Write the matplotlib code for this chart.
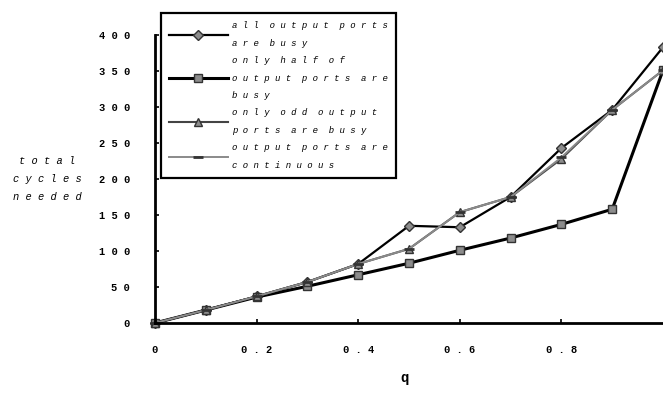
import matplotlib
matplotlib.use("Agg")
import matplotlib.pyplot as plt

# data
q = [0, 0.1, 0.2, 0.3, 0.4, 0.5, 0.6, 0.7, 0.8, 0.9, 1.0]
all_busy = [0, 18, 37, 57, 82, 135, 133, 175, 243, 296, 383]
half_busy = [0, 18, 36, 51, 67, 83, 101, 118, 137, 158, 351]
odd_busy = [0, 18, 37, 57, 82, 103, 154, 175, 228, 296, 351]
continuous = [0, 18, 37, 57, 82, 103, 154, 175, 230, 296, 351]

series_names = ["all output ports\nare busy",
                "only half of\noutput ports are\nbusy",
                "only odd output\nports are busy",
                "output ports are\ncontinuous"]

xtick_vals = [0, 0.2, 0.4, 0.6, 0.8]
ytick_vals = [0, 50, 100, 150, 200, 250, 300, 350, 400]

MONO = "Liberation Mono"


def spaced(s):
    # the scan uses wide letter spacing everywhere
    out = []
    for line in s.split("\n"):
        out.append("  ".join(" ".join(w) for w in line.split(" ")))
    return "\n".join(out)


fig = plt.figure(figsize=(6.63, 3.97), dpi=100)
ax = fig.add_axes([155 / 663, 1 - 323 / 397, (663 - 155) / 663, (323 - 35) / 397])

mk = dict(markerfacecolor="#8c8c8c", markeredgecolor="#333333", clip_on=False)
ax.plot(q, all_busy, color="black", lw=1.6, marker="D", markersize=5,
        label=spaced(series_names[0]), **mk)
ax.plot(q, half_busy, color="black", lw=2.2, marker="s", markersize=6,
        label=spaced(series_names[1]), **mk)
ax.plot(q, odd_busy, color="#444444", lw=1.5, marker="^", markersize=5.5,
        label=spaced(series_names[2]), **mk)
ax.plot(q, continuous, color="#8a8a8a", lw=1.4, marker="_", markersize=7,
        markeredgewidth=2, label=spaced(series_names[3]), **mk)

ax.set_xlim(0, 1.0)
ax.set_ylim(0, 400)
ax.spines["top"].set_visible(False)
ax.spines["right"].set_visible(False)
ax.spines["left"].set_linewidth(2)
ax.spines["bottom"].set_linewidth(2)

ax.set_xticks(xtick_vals)
ax.set_xticklabels([spaced("0" if v == 0 else "%.1f" % v) for v in xtick_vals],
                   family=MONO, fontsize=7.5, fontweight="bold")
ax.set_yticks(ytick_vals)
ax.set_yticklabels([spaced(str(v)) for v in ytick_vals],
                   family=MONO, fontsize=7.5, fontweight="bold")
ax.tick_params(axis="y", direction="in", length=3, width=1.2, pad=18)
ax.tick_params(axis="x", direction="in", length=3, width=1.2, pad=16)

fig.text(47 / 663, 1 - 179 / 397, spaced("total\ncycles\nneeded"),
         family=MONO, style="italic", fontsize=7.5, ha="center", va="center",
         linespacing=2.0)
fig.text(405 / 663, 1 - 378 / 397, "q", family=MONO, fontweight="bold",
         fontsize=10, ha="center", va="center")

leg = ax.legend(loc="upper left", bbox_to_anchor=(161 / 663, 1 - 13 / 397),
                bbox_transform=fig.transFigure, borderaxespad=0,
                prop={"family": MONO, "style": "italic", "size": 6.5},
                handlelength=6.5, handletextpad=0.5, labelspacing=0.95,
                borderpad=0.9, fancybox=False, framealpha=1)
leg.get_frame().set_edgecolor("black")
leg.get_frame().set_linewidth(1.6)
for t in leg.get_texts():
    t.set_linespacing(2.2)

fig.savefig("out.png", dpi=100)
